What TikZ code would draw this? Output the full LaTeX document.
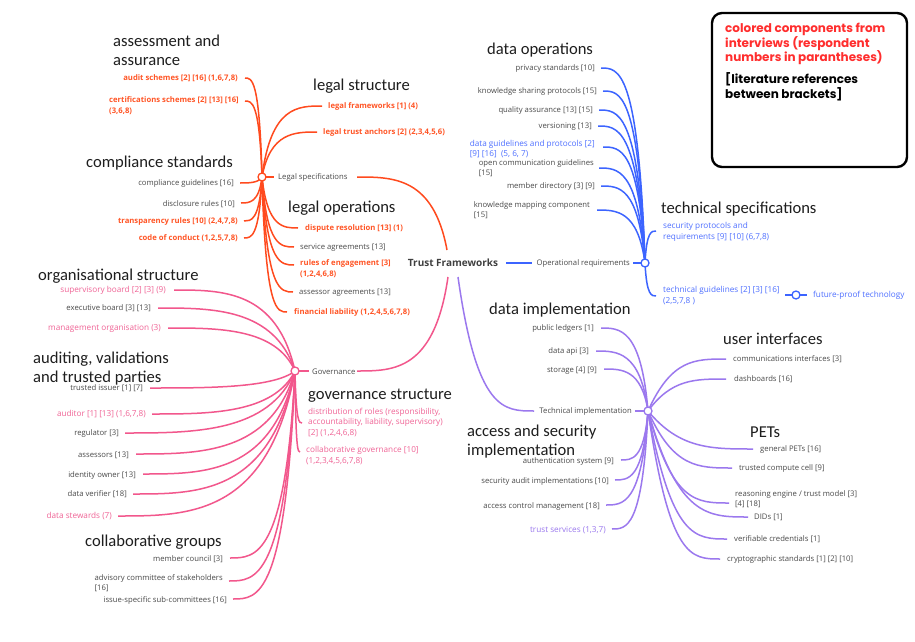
\documentclass[tikz,border=0pt]{standalone}
\usepackage{fontspec}
\setmainfont{Open Sans}
\newfontfamily\headfont{Carlito}
\newfontfamily\legfont{Poppins}
\usetikzlibrary{calc}
\definecolor{cOr}{HTML}{FF4A1E}
\definecolor{cOrT}{HTML}{FF5526}
\definecolor{cPk}{HTML}{F2578C}
\definecolor{cPkT}{HTML}{F06496}
\definecolor{cBl}{HTML}{3C64FF}
\definecolor{cBlT}{HTML}{4F70FF}
\definecolor{cPu}{HTML}{9B78EE}
\definecolor{cPuT}{HTML}{9A78EE}
\definecolor{cGr}{HTML}{4A4A4A}
\definecolor{cHd}{HTML}{1E1E1E}
\definecolor{cLr}{HTML}{FF2E2E}
\tikzset{
  br/.style={to path={.. controls ($(\tikztostart |- \tikztotarget)!#1!(\tikztotarget)$) and ($(\tikztostart |- \tikztotarget)!0.6!(\tikztotarget)$) .. (\tikztotarget)}},
  br/.default=0.15,
  lbl/.style={font=\fontsize{7.7}{10.5}\selectfont, text=cGr, inner sep=0pt, text height=5.8pt, text depth=1.6pt},
  lblL/.style={lbl, anchor=east},
  lblR/.style={lbl, anchor=west},
  tO/.style={text=cOrT, font=\bfseries\fontsize{7.7}{10.5}\selectfont},
  tP/.style={text=cPkT, font=\fontsize{8.2}{10.5}\selectfont},
  tB/.style={text=cBlT, font=\fontsize{8.2}{10.5}\selectfont},
  tU/.style={text=cPuT, font=\fontsize{8.2}{10.5}\selectfont},
  hd/.style={font=\headfont\fontsize{16.6}{19}\selectfont, text=cHd, inner sep=0pt, anchor=west, text height=11.5pt, text depth=3.5pt, yshift=-2.5pt},
  lg/.style={font=\legfont\bfseries\fontsize{12}{14.5}\selectfont, inner sep=0pt, anchor=west, text height=8.5pt, text depth=2.5pt},
  lnO/.style={draw=cOr, line width=1.5pt},
  lnP/.style={draw=cPk, line width=1.5pt},
  lnB/.style={draw=cBl, line width=1.5pt},
  lnU/.style={draw=cPu, line width=1.5pt},
  hub/.style={circle, fill=white, line width=1.3pt, minimum size=8pt, inner sep=0pt},
  tf/.style={font=\bfseries\fontsize{10}{12}\selectfont, text=cHd!85, inner sep=0pt}
}
\begin{document}
\begin{tikzpicture}[x=1pt,y=-1pt]
\useasboundingbox (0,0) rectangle (915,642);
\fill[white] (0,0) rectangle (915,642);

% ---------- centre ----------
\node[tf] (TF) at (453,263) {Trust Frameworks};
\coordinate (tfL) at (447,250);
\coordinate (tfG) at (448,277);
\coordinate (tfT) at (458,277);
\coordinate (tfO) at (506,263);

% ---------- legend ----------
\node[draw, line width=2.4pt, rounded corners=10pt, minimum width=195pt, minimum height=154pt] (legend) at (809.5,90) {};
\node[lg, text=cLr] (leg1) at (725,30) {colored components from};
\node[lg, text=cLr] (leg2) at (725,44.5) {interviews (respondent};
\node[lg, text=cLr] (leg3) at (725,59) {numbers in parantheses)};
\node[lg, text=black] (leg4) at (725,81) {[literature references};
\node[lg, text=black] (leg5) at (725,95.5) {between brackets]};

% ---------- headings ----------
\node[hd] (h1) at (113,40) {assessment and};
\node[hd] (h1b) at (113,59) {assurance};
\node[hd] (h2) at (313,84) {legal structure};
\node[hd] (h3) at (86,161) {compliance standards};
\node[hd] (h4) at (288,206) {legal operations};
\node[hd] (h5) at (38,274) {organisational structure};
\node[hd] (h6) at (33,357) {auditing, validations};
\node[hd] (h6b) at (33,376) {and trusted parties};
\node[hd] (h7) at (85,540) {collaborative groups};
\node[hd] (h8) at (308,393) {governance structure};
\node[hd] (h9) at (487,48) {data operations};
\node[hd] (h10) at (661,207) {technical specifications};
\node[hd] (h11) at (489,308) {data implementation};
\node[hd] (h12) at (723,338) {user interfaces};
\node[hd] (h13) at (750,431) {PETs};
\node[hd] (h14) at (467,430) {access and security};
\node[hd] (h14b) at (467,449) {implementation};

% ---------- LEGAL (orange) ----------
\coordinate (hL) at (262,177);
\node[lblR] (Lsp) at (278,177) {Legal specifications};
\coordinate (LspE) at (357,177);
\draw[lnO] (tfL) to[br] (LspE);
\draw[lnO] (hL) -- ($(Lsp.west)+(-4,0)$);

\node[lblL,tO] (a1) at (238,78) {audit schemes [2] [16] (1,6,7,8)};
\coordinate (a1c) at (245,78);
\node[lblL,tO] (a2) at (239,100) {certifications schemes [2] [13] [16]};
\node[lblR,tO] (a2b) at (a2.west |- 0,111) {(3,6,8)};
\coordinate (a2c) at (245,101);
\node[lblL] (a3) at (234,183) {compliance guidelines [16]};
\coordinate (a3c) at (240,183);
\node[lblL] (a4) at (235,204) {disclosure rules [10]};
\coordinate (a4c) at (241,203);
\node[lblL,tO] (a5) at (238,221) {transparency rules [10] (2,4,7,8)};
\coordinate (a5c) at (244,221);
\node[lblL,tO] (a6) at (238,238) {code of conduct (1,2,5,7,8)};
\coordinate (a6c) at (244,238);
\node[lblR,tO] (a7) at (328,106) {legal frameworks [1] (4)};
\coordinate (a7c) at (322,106);
\node[lblR,tO] (a8) at (323,132) {legal trust anchors [2] (2,3,4,5,6)};
\coordinate (a8c) at (317,132);
\node[lblR,tO] (a9) at (305,228) {dispute resolution [13] (1)};
\coordinate (a9c) at (298,228);
\node[lblR] (a10) at (300,247) {service agreements [13]};
\coordinate (a10c) at (294,247);
\node[lblR,tO] (a11) at (300,263) {rules of engagement [3]};
\node[lblR,tO] (a11b) at (300,274) {(1,2,4,6,8)};
\coordinate (a11c) at (294,265);
\node[lblR] (a12) at (299,292) {assessor agreements [13]};
\coordinate (a12c) at (293,292);
\node[lblR,tO] (a13) at (294,312) {financial liability (1,2,4,5,6,7,8)};
\coordinate (a13c) at (287,312);
\foreach \c in {a1c,a2c,a3c,a4c,a5c,a6c,a7c,a8c,a9c,a10c,a11c,a12c,a13c}
  \draw[lnO] (hL) to[br] (\c);

% ---------- GOVERNANCE (pink) ----------
\coordinate (hG) at (295,371);
\node[lblR] (Gov) at (312,372) {Governance};
\coordinate (GovE) at (357,371);
\draw[lnP] (tfG) to[br] (GovE);
\draw[lnP] (hG) -- ($(Gov.west)+(-3,-1)$);

\node[lblL,tP] (g1) at (166,290) {supervisory board [2] [3] (9)};
\coordinate (g1c) at (174,290);
\node[lblL] (g2) at (151,308) {executive board [3] [13]};
\coordinate (g2c) at (158,308);
\node[lblL,tP] (g3) at (161,328) {management organisation (3)};
\coordinate (g3c) at (168,328);
\node[lblL] (g4) at (143,388) {trusted issuer [1] [7]};
\coordinate (g4c) at (150,388);
\node[lblL,tP] (g5) at (146,414) {auditor [1] [13] (1,6,7,8)};
\coordinate (g5c) at (152,414);
\node[lblL] (g6) at (119,433) {regulator [3]};
\coordinate (g6c) at (125,433);
\node[lblL] (g7) at (129,455) {assessors [13]};
\coordinate (g7c) at (136,454);
\node[lblL] (g8) at (136,475) {identity owner [13]};
\coordinate (g8c) at (143,474);
\node[lblL] (g9) at (127,494) {data verifier [18]};
\coordinate (g9c) at (133,494);
\node[lblL,tP] (g10) at (112,516) {data stewards (7)};
\coordinate (g10c) at (118,516);
\node[lblL] (g11) at (223,559) {member council [3]};
\coordinate (g11c) at (230,558);
\node[lblL] (g12) at (223,578) {advisory committee of stakeholders};
\node[lblR] (g12b) at (g12.west |- 0,588) {[16]};
\coordinate (g12c) at (229,581);
\node[lblL] (g13) at (227,600) {issue-specific sub-committees [16]};
\coordinate (g13c) at (233,599);
\node[lblR,tP] (g14) at (308,412) {distribution of roles (responsibility,};
\node[lblR,tP] (g14b) at (308,422.5) {accountability, liability, supervisory)};
\node[lblR,tP] (g14c) at (308,433) {[2] (1,2,4,6,8)};
\coordinate (g14e) at (302,423);
\node[lblR,tP] (g15) at (306,450) {collaborative governance [10]};
\node[lblR,tP] (g15b) at (306,461) {(1,2,3,4,5,6,7,8)};
\coordinate (g15e) at (300,452);
\foreach \c in {g1c,g2c,g3c,g4c,g5c,g6c,g7c,g8c,g9c,g10c,g11c,g12c,g13c,g14e,g15e}
  \draw[lnP] (hG) to[br] (\c);

% ---------- OPERATIONAL (blue) ----------
\coordinate (hO) at (645,263);
\node[lblL] (Op) at (630,263) {Operational requirements};
\coordinate (OpW) at (532,263);
\draw[lnB] (tfO) -- (OpW);
\draw[lnB] ($(Op.east)+(3,0)$) -- (hO);

\node[lblL] (b1) at (595,68) {privacy standards [10]};
\coordinate (b1c) at (601,68);
\node[lblL] (b2) at (597,91) {knowledge sharing protocols [15]};
\coordinate (b2c) at (603,91);
\node[lblL] (b3) at (593,110) {quality assurance [13] [15]};
\coordinate (b3c) at (599,110);
\node[lblL] (b4) at (592,126) {versioning [13]};
\coordinate (b4c) at (598,126);
\node[lblL,tB] (b5) at (595,144) {data guidelines and protocols [2]};
\node[lblR,tB] (b5b) at (b5.west |- 0,154) {[9] [16]~~(5, 6, 7)};
\coordinate (b5c) at (603,147);
\node[lblL] (b6) at (594,163) {open communication guidelines};
\node[lblR] (b6b) at (b6.west |- 0,173) {[15]};
\coordinate (b6c) at (599,168);
\node[lblL] (b7) at (595,186) {member directory [3] [9]};
\coordinate (b7c) at (601,186);
\node[lblL] (b8) at (590,205) {knowledge mapping component};
\node[lblR] (b8b) at (b8.west |- 0,215) {[15]};
\coordinate (b8c) at (597,210);
\node[lblR,tB] (b9) at (663,226) {security protocols and};
\node[lblR,tB] (b9b) at (663,237) {requirements [9] [10] (6,7,8)};
\coordinate (b9c) at (656,231);
\node[lblR,tB] (b10) at (663,290) {technical guidelines [2] [3] [16]};
\node[lblR,tB] (b10b) at (663,301) {(2,5,7,8 )};
\coordinate (b10c) at (656,296);
\foreach \c in {b1c,b2c,b3c,b4c,b5c,b6c,b7c,b8c,b9c,b10c}
  \draw[lnB] (hO) to[br] (\c);
\coordinate (fpA) at (785,295);
\coordinate (hF) at (796,295);
\node[lblR,tB] (fp) at (813,295) {future-proof technology};
\draw[lnB] (fpA) -- (hF) -- ($(fp.west)+(-6,0)$);

% ---------- TECHNICAL IMPLEMENTATION (purple) ----------
\coordinate (hT) at (648,411);
\node[lblL] (Ti) at (632,411) {Technical implementation};
\coordinate (TiW) at (534,411);
\draw[lnU] (tfT) to[br=0.25] (TiW);
\draw[lnU] ($(Ti.east)+(3,0)$) -- (hT);

\node[lblL] (p1) at (594,328) {public ledgers [1]};
\coordinate (p1c) at (601,328);
\node[lblL] (p2) at (589,351) {data api [3]};
\coordinate (p2c) at (596,351);
\node[lblL] (p3) at (597,370) {storage [4] [9]};
\coordinate (p3c) at (604,369);
\node[lblL] (p4) at (614,461) {authentication system [9]};
\coordinate (p4c) at (621,460);
\node[lblL] (p5) at (609,481) {security audit implementations [10]};
\coordinate (p5c) at (615,480);
\node[lblL] (p6) at (600,506) {access control management [18]};
\coordinate (p6c) at (606,505);
\node[lblL,tU] (p7) at (606,530) {trust services (1,3,7)};
\coordinate (p7c) at (612,529);
\node[lblR] (p8) at (733,359) {communications interfaces [3]};
\coordinate (p8c) at (726,359);
\node[lblR] (p9) at (734,379) {dashboards [16]};
\coordinate (p9c) at (726,379);
\node[lblR] (p10) at (760,449) {general PETs [16]};
\coordinate (p10c) at (753,449);
\node[lblR] (p11) at (739,468) {trusted compute cell [9]};
\coordinate (p11c) at (732,468);
\node[lblR] (p12) at (735,494) {reasoning engine / trust model [3]};
\node[lblR] (p12b) at (735,504) {[4] [18]};
\coordinate (p12c) at (729,503);
\node[lblR] (p13) at (754,517) {DIDs [1]};
\coordinate (p13c) at (748,517);
\node[lblR] (p14) at (734,539) {verifiable credentials [1]};
\coordinate (p14c) at (727,539);
\node[lblR] (p15) at (727,559) {cryptographic standards [1] [2] [10]};
\coordinate (p15c) at (720,559);
\foreach \c in {p1c,p2c,p3c,p4c,p5c,p6c,p7c}
  \draw[lnU] (hT) to[br] (\c);
\foreach \c in {p8c,p9c,p10c,p11c,p12c,p13c,p14c,p15c}
  \draw[lnU] (hT) to[br=0.3] (\c);

% ---------- hub circles ----------
\node[hub, draw=cOr] (HL) at (hL) {};
\node[hub, draw=cPk] (HG) at (hG) {};
\node[hub, draw=cBl] (HO) at (hO) {};
\node[hub, draw=cPu] (HT) at (hT) {};
\node[hub, draw=cBl] (HF) at (hF) {};
\end{tikzpicture}
\end{document}
